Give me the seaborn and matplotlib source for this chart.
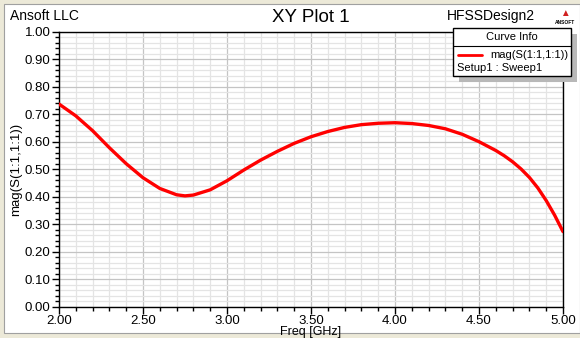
import numpy as np
import pandas as pd
import matplotlib
matplotlib.use("Agg")
import matplotlib.pyplot as plt
from matplotlib.patches import Rectangle
from matplotlib.lines import Line2D
from matplotlib.ticker import MultipleLocator, FormatStrFormatter
import seaborn as sns

# ---- data ----
freq_ghz = [2.0, 2.1, 2.2, 2.3, 2.4, 2.5, 2.6, 2.7, 2.75, 2.8, 2.9, 3.0, 3.1, 3.2,
            3.3, 3.4, 3.5, 3.6, 3.7, 3.8, 3.9, 4.0, 4.1, 4.2, 4.3, 4.4, 4.5, 4.6,
            4.65, 4.7, 4.75, 4.8, 4.85, 4.9, 4.95, 5.0]
mag_s11 = [0.737, 0.694, 0.640, 0.578, 0.520, 0.469, 0.430, 0.407, 0.403, 0.406,
           0.425, 0.458, 0.497, 0.533, 0.565, 0.594, 0.618, 0.637, 0.652, 0.662,
           0.667, 0.669, 0.666, 0.659, 0.647, 0.627, 0.600, 0.568,
           0.549, 0.527, 0.501, 0.470, 0.432, 0.386, 0.333, 0.273]
x_ticks = [2.0, 2.5, 3.0, 3.5, 4.0, 4.5, 5.0]
y_ticks = [0.0, 0.1, 0.2, 0.3, 0.4, 0.5, 0.6, 0.7, 0.8, 0.9, 1.0]
series_name = "mag(S(1:1,1:1))"
setup_name = "Setup1 : Sweep1"

df = pd.DataFrame({"Freq [GHz]": freq_ghz, series_name: mag_s11})

sns.set_theme(style="white")
plt.rcParams["font.family"] = ["Liberation Sans", "DejaVu Sans"]

W, H = 580, 338
fig = plt.figure(figsize=(W / 100, H / 100), dpi=100, facecolor="#ECE9D8")

def fx(px):
    return px / W

def fy(py):
    return 1 - py / H

# white panel
fig.add_artist(Rectangle((fx(4), fy(333)), fx(580 - 4), (333 - 4) / H,
                         transform=fig.transFigure, facecolor="white",
                         edgecolor="#A0A0A0", linewidth=0.8, zorder=0))

ax = fig.add_axes([fx(59), fy(306.7), fx(563 - 59), (306.7 - 31.7) / H])
ax.set_facecolor("white")

sns.lineplot(data=df, x="Freq [GHz]", y=series_name, ax=ax, color="#FF0000",
             linewidth=2.4, zorder=5)

ax.set_xlim(2.0, 5.0)
ax.set_ylim(0.0, 1.0)
ax.set_xticks(x_ticks)
ax.set_yticks(y_ticks)
ax.xaxis.set_minor_locator(MultipleLocator(0.1))
ax.yaxis.set_minor_locator(MultipleLocator(0.02))
ax.xaxis.set_major_formatter(FormatStrFormatter("%.2f"))
ax.yaxis.set_major_formatter(FormatStrFormatter("%.2f"))

ax.grid(which="minor", color="#E4E4E4", linewidth=0.9, zorder=0)
ax.grid(which="major", color="#C4C4C4", linewidth=0.9, zorder=1)
ax.set_axisbelow(True)

for s in ax.spines.values():
    s.set_color("black")
    s.set_linewidth(1.0)
    s.set_visible(True)

ax.tick_params(which="major", direction="out", length=5, width=1, color="black",
               labelsize=9.5, pad=1, labelcolor="black",
               bottom=True, left=True)
ax.tick_params(which="minor", direction="out", length=3, width=1, color="black",
               bottom=True, left=True)

ax.set_xlabel("Freq [GHz]", fontsize=9, labelpad=-1, color="black")
ax.set_ylabel(series_name, fontsize=9.5, labelpad=2, color="black")

# header texts
fig.text(fx(10), fy(16), "Ansoft LLC", fontsize=10, ha="left", va="center", color="black")
fig.text(fx(311), fy(18), "XY Plot 1", fontsize=13.5, ha="center", va="center", color="black")
fig.text(fx(535), fy(16), "HFSSDesign2", fontsize=10, ha="right", va="center", color="black")
fig.text(fx(565), fy(13), "\u25B2", fontsize=7, ha="center", va="center", color="#D02020")
fig.text(fx(565), fy(22), "ANSOFT", fontsize=3.5, ha="center", va="center",
         color="black", fontweight="bold")

# curve info box
bx0, by0, bx1, by1 = 453, 28, 571, 76
fig.add_artist(Rectangle((fx(bx0 + 6), fy(by1 + 6)), fx(bx1 - bx0), (by1 - by0) / H,
                         transform=fig.transFigure, facecolor="#B8B8B8",
                         edgecolor="none", zorder=10))
fig.add_artist(Rectangle((fx(bx0), fy(by1)), fx(bx1 - bx0), (by1 - by0) / H,
                         transform=fig.transFigure, facecolor="white",
                         edgecolor="black", linewidth=1.0, zorder=11))
fig.add_artist(Line2D([fx(bx0), fx(bx1)], [fy(46), fy(46)], transform=fig.transFigure,
                      color="black", linewidth=0.8, zorder=12))
fig.text(fx((bx0 + bx1) / 2), fy(37), "Curve Info", fontsize=8, ha="center",
         va="center", color="black", zorder=12)
fig.add_artist(Line2D([fx(458), fx(482)], [fy(55), fy(55)], transform=fig.transFigure,
                      color="#FF0000", linewidth=2, zorder=12))
fig.text(fx(568), fy(55), series_name, fontsize=8, ha="right", va="center",
         color="black", zorder=12)
fig.text(fx(457), fy(68), setup_name, fontsize=8, ha="left", va="center",
         color="black", zorder=12)

fig.savefig("out.png", dpi=100, facecolor=fig.get_facecolor())
